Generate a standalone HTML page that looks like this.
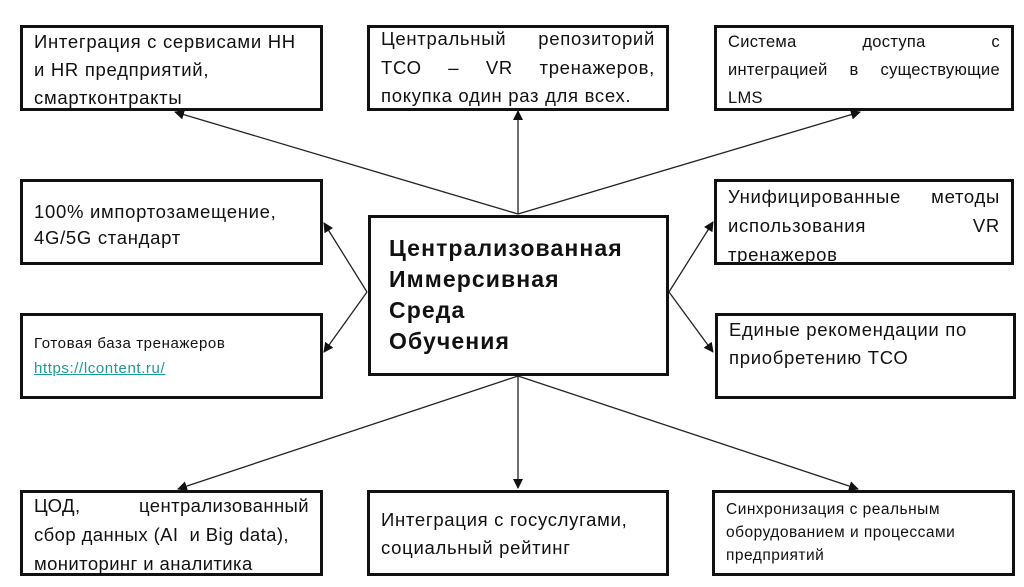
<!DOCTYPE html>
<html><head><meta charset="utf-8"><style>
body{margin:0;width:1024px;height:587px;background:#fff;position:relative;overflow:hidden;font-family:"Liberation Sans","DejaVu Sans",sans-serif;color:#111}
.b{position:absolute;border:3px solid #111;box-sizing:border-box;background:#fff;padding:0 11px 0 11px;font-size:18.5px;line-height:28px;white-space:nowrap;letter-spacing:0.7px;overflow:hidden}
.b div{text-align:left}
.b .j{text-align:justify;text-align-last:justify}
svg{position:absolute;left:0;top:0}
</style></head><body>
<svg width="1024" height="587">
<defs><marker id="a" markerWidth="10" markerHeight="10" refX="9" refY="5" orient="auto" markerUnits="userSpaceOnUse"><path d="M0,0 L10,5 L0,10z" fill="#111"/></marker></defs>
<g stroke="#222" stroke-width="1.3" marker-end="url(#a)">
<line x1="518" y1="214" x2="175" y2="112"/>
<line x1="518" y1="214" x2="518" y2="111"/>
<line x1="518" y1="214" x2="860" y2="112"/>
<line x1="367" y1="292" x2="324" y2="223"/>
<line x1="367" y1="292" x2="324" y2="352"/>
<line x1="669" y1="292" x2="713" y2="222"/>
<line x1="669" y1="292" x2="713" y2="352"/>
<line x1="518" y1="376" x2="178" y2="489"/>
<line x1="518" y1="376" x2="518" y2="488"/>
<line x1="518" y1="376" x2="858" y2="489"/>
</g></svg>
<div class="b" style="left:20px;top:25px;width:303px;height:86px"><div>Интеграция с сервисами HH</div><div>и HR предприятий,</div><div>смартконтракты</div></div>
<div class="b" style="left:367px;top:25px;width:302px;height:86px;line-height:28.5px;padding-top:0"><div class="j" style="margin-top:-3px">Центральный репозиторий</div><div class="j">ТСО – VR тренажеров,</div><div>покупка один раз для всех.</div></div>
<div class="b" style="left:714px;top:25px;width:300px;height:86px;font-size:16.5px;letter-spacing:0.3px"><div class="j">Система доступа с</div><div class="j">интеграцией в существующие</div><div>LMS</div></div>
<div class="b" style="left:20px;top:179px;width:303px;height:86px;padding-top:17px;line-height:26px"><div>100% импортозамещение,</div><div>4G/5G стандарт</div></div>
<div class="b" style="left:20px;top:313px;width:303px;height:86px;padding-top:15px;font-size:15px;line-height:25px;letter-spacing:0.6px"><div>Готовая база тренажеров</div><div><span style="color:#1a9a9a;text-decoration:underline">https://lcontent.ru/</span></div></div>
<div class="b" style="left:368px;top:215px;width:301px;height:161px;padding:15px 0 0 18px;font-weight:bold;font-size:23px;line-height:31px;letter-spacing:1.1px"><div>Централизованная</div><div>Иммерсивная</div><div>Среда</div><div>Обучения</div></div>
<div class="b" style="left:714px;top:179px;width:300px;height:86px;line-height:29px"><div class="j">Унифицированные методы</div><div class="j">использования VR</div><div>тренажеров</div></div>
<div class="b" style="left:715px;top:313px;width:301px;height:86px"><div>Единые рекомендации по</div><div>приобретению ТСО</div></div>
<div class="b" style="left:20px;top:490px;width:303px;height:86px;line-height:29px;letter-spacing:0.4px"><div class="j" style="margin-top:-2px">ЦОД, централизованный</div><div>сбор данных (AI&nbsp; и Big data),</div><div>мониторинг и аналитика</div></div>
<div class="b" style="left:367px;top:490px;width:302px;height:86px;padding-top:13px"><div>Интеграция с госуслугами,</div><div>социальный рейтинг</div></div>
<div class="b" style="left:712px;top:490px;width:303px;height:86px;padding-top:5px;font-size:15.5px;line-height:23px;letter-spacing:0.5px"><div>Синхронизация с реальным</div><div>оборудованием и процессами</div><div>предприятий</div></div>
</body></html>
